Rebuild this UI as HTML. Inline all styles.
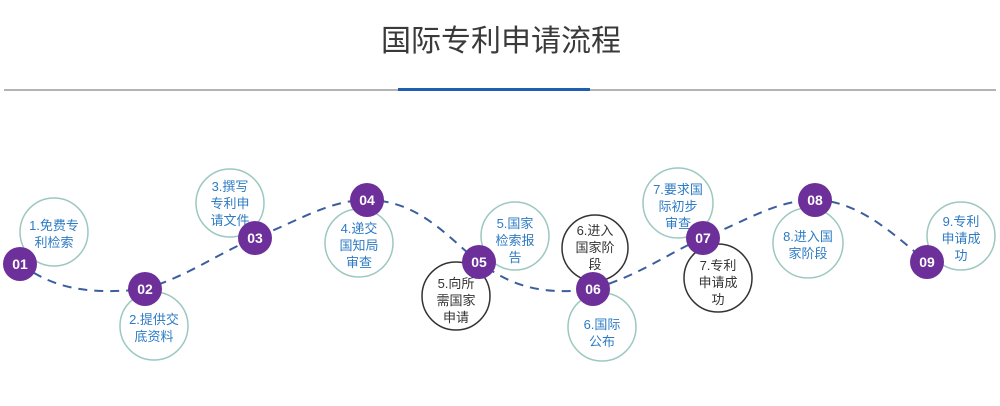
<!DOCTYPE html>
<html><head><meta charset="utf-8"><style>
html,body{margin:0;padding:0;background:#fff;width:1000px;height:406px;overflow:hidden}
svg text{font-family:"Liberation Sans","Noto Sans CJK SC",sans-serif}
</style></head><body>
<svg width="1000" height="406" viewBox="0 0 1000 406" xmlns="http://www.w3.org/2000/svg">
<text x="501" y="51" text-anchor="middle" font-size="30" fill="#3a3a3a">国际专利申请流程</text>
<rect x="4" y="89" width="992" height="2" fill="#b3b3b3"/>
<rect x="398" y="88" width="192" height="3" fill="#1f5db3"/>
<path d="M20 264 C50 285 80 296 145 289 C190 275 215 255 255 238 C300 220 330 200 367 200 C420 200 450 240 479 262 C510 285 540 296 593 289 C640 275 665 255 703 238 C745 222 775 200 815 200 C860 200 900 240 927 262" fill="none" stroke="#3b5e9e" stroke-width="2" stroke-dasharray="9 7"/>
<g fill="#fff" stroke-width="1.5">
<circle cx="54" cy="232" r="34" stroke="#9cc8c0"/>
<circle cx="154" cy="326" r="34" stroke="#9cc8c0"/>
<circle cx="230" cy="203" r="34" stroke="#9cc8c0"/>
<circle cx="359" cy="243" r="34" stroke="#9cc8c0"/>
<circle cx="515" cy="236" r="34" stroke="#9cc8c0"/>
<circle cx="456" cy="296" r="34" stroke="#333"/>
<circle cx="595" cy="248" r="33" stroke="#333"/>
<circle cx="602" cy="327" r="34" stroke="#9cc8c0"/>
<circle cx="678" cy="203" r="35" stroke="#9cc8c0"/>
<circle cx="718" cy="278" r="34" stroke="#333"/>
<circle cx="808" cy="243" r="35" stroke="#9cc8c0"/>
<circle cx="961" cy="236" r="34" stroke="#9cc8c0"/>
</g>
<g font-size="13" text-anchor="middle" fill="#2e7bc4">
<text x="54" y="230">1.免费专</text><text x="54" y="247">利检索</text>
<text x="154" y="324">2.提供交</text><text x="154" y="341">底资料</text>
<text x="230" y="191">3.撰写</text><text x="230" y="208">专利申</text><text x="230" y="225">请文件</text>
<text x="359" y="233">4.递交</text><text x="359" y="250">国知局</text><text x="359" y="267">审查</text>
<text x="515" y="228">5.国家</text><text x="515" y="245">检索报</text><text x="515" y="262">告</text>
<text x="602" y="329">6.国际</text><text x="602" y="346">公布</text>
<text x="678" y="194">7.要求国</text><text x="678" y="211">际初步</text><text x="678" y="228">审查</text>
<text x="808" y="241">8.进入国</text><text x="808" y="258">家阶段</text>
<text x="961" y="226">9.专利</text><text x="961" y="243">申请成</text><text x="961" y="260">功</text>
</g>
<g font-size="13" text-anchor="middle" fill="#333">
<text x="456" y="288">5.向所</text><text x="456" y="305">需国家</text><text x="456" y="322">申请</text>
<text x="595" y="235">6.进入</text><text x="595" y="252">国家阶</text><text x="595" y="269">段</text>
<text x="718" y="270">7.专利</text><text x="718" y="287">申请成</text><text x="718" y="304">功</text>
</g>
<g fill="#6d2f9a">
<circle cx="20" cy="264" r="17"/><circle cx="145" cy="289" r="17"/><circle cx="255" cy="238" r="17"/>
<circle cx="367" cy="200" r="17"/><circle cx="479" cy="262" r="17"/><circle cx="593" cy="289" r="17"/>
<circle cx="703" cy="238" r="17"/><circle cx="815" cy="200" r="17"/><circle cx="927" cy="262" r="17"/>
</g>
<g font-size="14" font-weight="bold" fill="#fff" text-anchor="middle">
<text x="20" y="269">01</text><text x="145" y="294">02</text><text x="255" y="243">03</text>
<text x="367" y="205">04</text><text x="479" y="267">05</text><text x="593" y="294">06</text>
<text x="703" y="243">07</text><text x="815" y="205">08</text><text x="927" y="267">09</text>
</g>
</svg>
</body></html>
